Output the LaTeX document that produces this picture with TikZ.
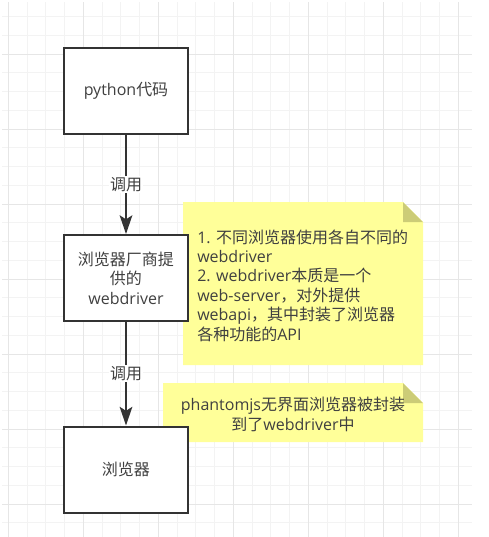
\documentclass[tikz,border=0pt]{standalone}
\usepackage{fontspec}
\setmainfont{Open Sans}
\newfontfamily\cjk{Noto Sans CJK SC}
\usetikzlibrary{arrows.meta}
\definecolor{txt}{HTML}{404040}
\definecolor{boxline}{HTML}{333333}
\definecolor{gridminor}{HTML}{F3F3F3}
\definecolor{gridmajor}{HTML}{E6E6E6}
\definecolor{notefill}{HTML}{FFFF99}
\definecolor{notefold}{HTML}{CCCC77}
\begin{document}
\begin{tikzpicture}[x=0.75pt,y=-0.75pt,
  every node/.style={text=txt, font=\fontsize{12}{14.55}\selectfont},
  box/.style={draw=boxline, line width=1.5pt, fill=white, minimum width=93pt, minimum height=64.5pt, align=center, inner sep=2pt},
  conn/.style={draw=boxline, line width=1.5pt, -{Stealth[length=14pt,width=9.5pt,inset=3pt]}},
  lbl/.style={fill=white, inner sep=1pt},
  notebg/.style={fill=notefill},
  foldbg/.style={fill=notefold},
]
\useasboundingbox (0,0) rectangle (489,537);
\fill[white] (0,0) rectangle (489,537);
% grid
\foreach \i in {0,...,24} {
  \pgfmathsetmacro\xx{8.3+18.75*\i}
  \draw[gridminor, line width=0.75pt] (\xx,2) -- (\xx,537);
}
\foreach \j in {1,...,28} {
  \pgfmathsetmacro\yy{-2.05+18.75*\j}
  \draw[gridminor, line width=0.75pt] (2,\yy) -- (472,\yy);
}
\foreach \i in {0,4,...,24} {
  \pgfmathsetmacro\xx{8.3+18.75*\i}
  \draw[gridmajor, line width=0.75pt] (\xx,2) -- (\xx,537);
}
\foreach \j in {3,7,...,27} {
  \pgfmathsetmacro\yy{-2.05+18.75*\j}
  \draw[gridmajor, line width=0.75pt] (2,\yy) -- (472,\yy);
}
% notes
\fill[notebg] (183,202) -- (403,202) -- (423,222) -- (423,365) -- (183,365) -- cycle;
\fill[foldbg] (403,202) -- (423,222) -- (403,222) -- cycle;
\fill[notebg] (163,383) -- (403,383) -- (423,403) -- (423,442) -- (163,442) -- cycle;
\fill[foldbg] (403,383) -- (423,403) -- (403,403) -- cycle;
\node[anchor=west, align=left, inner sep=0pt] (t1) at (197,285.5) {1. {\cjk 不同浏览器使用各自不同的}\\webdriver\\2. webdriver{\cjk 本质是一个}\\web-server{\cjk ，对外提供}\\webapi{\cjk ，其中封装了浏览器}\\{\cjk 各种功能的}API};
\node[align=center, inner sep=0pt] (t2) at (293,414.5) {phantomjs{\cjk 无界面浏览器被封装}\\{\cjk 到了}webdriver{\cjk 中}};
% boxes
\node[box] (b1) at (126,90.5) {python{\cjk 代码}};
\node[box] (b2) at (126,278) {{\cjk 浏览器厂商提}\\{\cjk 供的}\\webdriver};
\node[box] (b3) at (126,469.5) {{\cjk 浏览器}};
% connectors
\draw[conn] (b1.south) -- node[lbl] (l1) {\cjk 调用} (b2.north);
\draw[conn] (b2.south) -- node[lbl] (l2) {\cjk 调用} (b3.north);
\end{tikzpicture}
\end{document}
